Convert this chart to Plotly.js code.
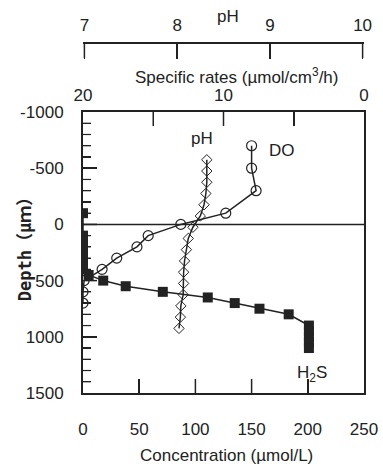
<!DOCTYPE html>
<html>
<head>
<meta charset="utf-8">
<script src="https://cdn.plot.ly/plotly-3.0.1.min.js"></script>
<style>
  html, body { margin: 0; padding: 0; background: #fff; }
  #chart { width: 383px; height: 464px; }
</style>
</head>
<body>
<div id="chart"></div>
<script>
// Dissolved oxygen profile (µmol/L) vs depth (µm)
const depthDO = [-700, -500, -300, -100, 0, 100, 200, 300, 400, 500, 600, 700];
const DO = [150, 150, 154, 127, 87, 58, 48, 30, 17, 1, 0, 0];

// pH profile vs depth (µm)
const depthPH = [-575, -475, -375, -275, -175, -75, 25, 125, 225, 325, 425, 525, 625, 725, 825, 925];
const pH = [8.32, 8.32, 8.32, 8.31, 8.29, 8.25, 8.17, 8.12, 8.10, 8.08, 8.07, 8.07, 8.065, 8.04, 8.035, 8.02];

// H2S profile (µmol/L) vs depth (µm)
const depthH2S = [-100, 100, 150, 200, 250, 300, 350, 400, 450, 500, 550, 600, 650, 700, 750, 800, 900, 950, 1000, 1050, 1100];
const H2S = [0, 0, 0, 0, 0, 0, 0, 0, 5, 18, 38, 71, 111, 135, 157, 183, 201, 201, 201, 201, 201];

// Axis ticks
const concTicks = [0, 50, 100, 150, 200, 250];
const depthTicks = [-1000, -500, 0, 500, 1000, 1500];
const depthTickText = ['-1000', '-500', '0', '500', '1000', '1500'];
const depthMinorTicks = [-900, -800, -700, -600, -400, -300, -200, -100, 100, 200, 300, 400,
                         600, 700, 800, 900, 1100, 1200, 1300, 1400];
const rateTicks = [20, 15, 10, 5, 0];
const rateTickText = ['20', '', '10', '', '0'];
const pHTicks = [7, 8, 9, 10];

const ink = '#222222';
function mkFont() { return {family: 'Liberation Sans, Arial, sans-serif', size: 17, color: ink}; }

const traces = [
  {
    x: DO, y: depthDO, xaxis: 'x', yaxis: 'y', mode: 'lines+markers', name: 'DO',
    line: {color: ink, width: 1.5},
    marker: {symbol: 'circle-open', size: 10, color: ink, line: {width: 1.2, color: ink}}
  },
  {
    x: pH, y: depthPH, xaxis: 'x3', yaxis: 'y', mode: 'lines+markers', name: 'pH',
    line: {color: ink, width: 1.5},
    marker: {symbol: 'diamond-open', size: 8, color: ink, line: {width: 1, color: ink}}
  },
  {
    x: H2S, y: depthH2S, xaxis: 'x', yaxis: 'y', mode: 'lines+markers', name: 'H2S',
    line: {color: ink, width: 1.5},
    marker: {symbol: 'square', size: 10, color: ink}
  },
  {
    x: [], y: [], xaxis: 'x2', yaxis: 'y', mode: 'markers', showlegend: false, hoverinfo: 'skip'
  }
];

function ann(text, x, y, extra) {
  return Object.assign({text: text, xref: 'paper', yref: 'paper', x: x, y: y,
    xanchor: 'center', yanchor: 'middle', showarrow: false, font: mkFont()}, extra || {});
}

// Plot-area geometry (pixels) used to express tick lengths in paper units
const plotW = 383 - 83 - 19;
const plotH = 464 - 40 - 71;
const yTop = 0.796;        // top of the depth-axis domain
const pHPos = 0.9915;      // position of the free pH axis

// Inward tick marks, also added as shapes so they always show
const tickShapes = [];
function vTick(xref, x, y0, len, w) {
  tickShapes.push({type: 'line', xref: xref, yref: 'paper', x0: x, x1: x, y0: y0, y1: y0 + len,
    line: {color: ink, width: w}});
}
function hTick(y, len, w) {
  tickShapes.push({type: 'line', xref: 'paper', yref: 'y', x0: 0, x1: len, y0: y, y1: y,
    line: {color: ink, width: w}});
}
concTicks.slice(1, -1).forEach(function(v){ vTick('x', v, 0, 14 / plotH, 1.5); });
rateTicks.slice(1, -1).forEach(function(v){ vTick('x2', v, yTop, -14 / plotH, 1.5); });
pHTicks.forEach(function(v){ vTick('x3', v, pHPos, -15 / plotH, 1.5); });
depthTicks.slice(1, -1).forEach(function(v){ hTick(v, 14 / plotW, 1.5); });
depthMinorTicks.forEach(function(v){ hTick(v, 8 / plotW, 1.2); });

const layout = {
  width: 383, height: 464,
  margin: {l: 83, r: 19, t: 40, b: 71},
  showlegend: false,
  xaxis: {
    range: [0, 250], tickvals: concTicks, ticks: 'inside', ticklen: 14, tickwidth: 1.5, tickcolor: ink,
    showline: true, linecolor: ink, linewidth: 2, showgrid: false, zeroline: false,
    ticklabelstandoff: 20, tickfont: mkFont()
  },
  xaxis2: {
    range: [20, 0], overlaying: 'x', anchor: 'y', side: 'top',
    tickvals: rateTicks, ticktext: rateTickText, ticks: 'inside', ticklen: 14, tickwidth: 1.5, tickcolor: ink,
    showline: true, linecolor: ink, linewidth: 2, showgrid: false, zeroline: false,
    ticklabelstandoff: 2, tickfont: mkFont()
  },
  xaxis3: {
    range: [6.985, 10.015], overlaying: 'x', anchor: 'free', position: pHPos, side: 'top',
    tickvals: pHTicks, ticks: 'inside', ticklen: 15, tickwidth: 1.5, tickcolor: ink,
    showline: true, linecolor: ink, linewidth: 2, showgrid: false, zeroline: false,
    ticklabelstandoff: 4, tickfont: mkFont()
  },
  yaxis: {
    domain: [0, yTop], range: [1500, -1000],
    tickvals: depthTicks, ticktext: depthTickText, ticks: 'inside', ticklen: 14, tickwidth: 1.5, tickcolor: ink,
    minor: {dtick: 100, ticks: 'inside', ticklen: 8, tickwidth: 1.2, tickcolor: ink},
    showline: true, mirror: true, linecolor: ink, linewidth: 2, showgrid: false, zeroline: false,
    ticklabelstandoff: 14, tickfont: mkFont()
  },
  shapes: [
    {type: 'line', xref: 'paper', yref: 'y', x0: 0, x1: 1, y0: 0, y1: 0, line: {color: ink, width: 1.5}}
  ].concat(tickShapes),
  annotations: [
    ann('pH', 0.516, 1.067),
    ann('Specific rates (µmol/cm<sup>3</sup>/h)', 0.548, 0.898),
    ann('Concentration (µmol/L)', 0.512, -0.176),
    ann('Depth（μｍ）', -0.206, 0.419, {textangle: -90,
      font: {family: 'DejaVu Sans Mono, Noto Sans CJK JP, monospace', size: 17, color: ink, weight: 'bold'}}),
    {text: 'pH', xref: 'x', yref: 'y', x: 106, y: -765, xanchor: 'center', yanchor: 'middle', showarrow: false, font: mkFont()},
    {text: 'DO', xref: 'x', yref: 'y', x: 177, y: -658, xanchor: 'center', yanchor: 'middle', showarrow: false, font: mkFont()},
    {text: 'H<sub>2</sub>S', xref: 'x', yref: 'y', x: 204, y: 1335, xanchor: 'center', yanchor: 'middle', showarrow: false, font: mkFont()}
  ]
};

Plotly.newPlot('chart', traces, layout, {staticPlot: true, displayModeBar: false});
</script>
</body>
</html>
